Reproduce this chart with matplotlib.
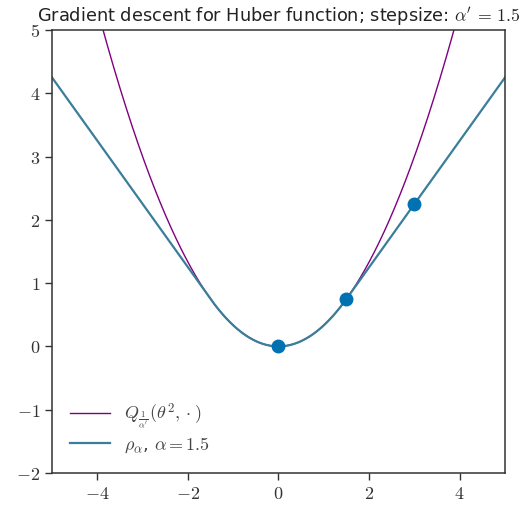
import numpy as np
import matplotlib.pyplot as plt

# Huber parameter and gradient descent stepsize (from the title / legend)
alpha = 1.5
stepsize = 1.5

# gradient descent iterates shown as dots
theta_x = [3.0, 1.5, 0.0]
theta_y = [2.25, 0.75, 0.0]

plt.rcParams['mathtext.fontset'] = 'cm'
plt.rcParams['font.family'] = 'DejaVu Sans'


def huber(x, a):
    return np.where(np.abs(x) <= a, x ** 2 / (2 * a), np.abs(x) - a / 2)


# quadratic upper bound built at theta = 1.5
def q_bound(x, th, a, step):
    grad = np.clip(th / a, -1, 1)
    return huber(th, a) + grad * (x - th) + (x - th) ** 2 / (2 * step)


x = np.linspace(-5, 5, 1001)

fig = plt.figure(figsize=(5.23, 5.08), dpi=100)
ax = fig.add_axes([0.0994, 0.069, 0.8662, 0.872])

ax.plot(x, q_bound(x, 1.5, alpha, stepsize), color='#800080', lw=1.0,
        label=r'$Q_{\frac{1}{\alpha^\prime}}(\theta^2, \cdot)$')
ax.plot(x, huber(x, alpha), color='#3a7e9a', lw=1.6,
        label=r'$\rho_\alpha$, $\alpha = 1.5$')
ax.plot(theta_x, theta_y, 'o', color='#0072b2', ms=9, zorder=5)

ax.set_xlim(-5, 5)
ax.set_ylim(-2, 5)
ax.set_xticks([-4, -2, 0, 2, 4])
ax.set_yticks([-2, -1, 0, 1, 2, 3, 4, 5])
ax.set_xticklabels([r'$-4$', r'$-2$', r'$0$', r'$2$', r'$4$'])
ax.set_yticklabels([r'$-2$', r'$-1$', r'$0$', r'$1$', r'$2$', r'$3$', r'$4$', r'$5$'])
ax.tick_params(labelsize=13, length=5, width=1, color='#333333',
               labelcolor='#333333', direction='out')
for s in ax.spines.values():
    s.set_color('#333333')
    s.set_linewidth(1.1)

leg = ax.legend(loc='lower left', frameon=False, fontsize=13,
                handlelength=2.2, labelspacing=0.25, borderaxespad=0.6)
for t in leg.get_texts():
    t.set_color('#444444')

ax.set_title(r"Gradient descent for Huber function; stepsize: $\alpha^\prime\/ =\/ 1.5$",
             fontsize=12.8, color='#222222', pad=6)

fig.savefig('out.png', dpi=100)
